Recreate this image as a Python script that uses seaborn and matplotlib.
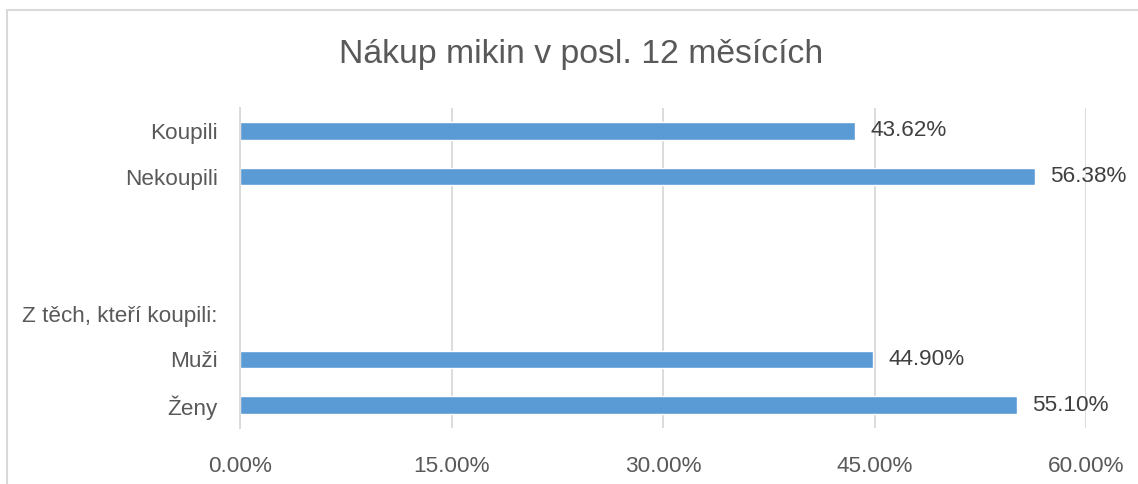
import matplotlib
matplotlib.use("Agg")
import matplotlib.pyplot as plt
import seaborn as sns
import pandas as pd
import numpy as np
from matplotlib.patches import Rectangle

categories = ["Koupili", "Nekoupili", " ", "  ", "Z těch, kteří koupili:", "Muži", "Ženy"]
values = [43.62, 56.38, np.nan, np.nan, np.nan, 44.90, 55.10]
xticks = [0, 15, 30, 45, 60]
title = "Nákup mikin v posl. 12 měsících"

sns.set_theme(style="white")
plt.rcParams['font.family'] = ['Liberation Sans', 'DejaVu Sans']

fig = plt.figure(figsize=(11.38, 4.84), dpi=100)
ax = fig.add_axes([240/1138, 56/484, (1086-240)/1138, 320/484])

df = pd.DataFrame({"cat": categories, "val": values})
sns.barplot(data=df, x="val", y="cat", order=categories, color="#5b9bd5",
            saturation=1, width=0.38, ax=ax, orient="h")

ax.set_xlim(0, 60)
ax.set_xticks(xticks)
ax.set_xticklabels([f"{v:.2f}%" for v in xticks])
ax.set_xlabel("")
ax.set_ylabel("")
ax.grid(axis="x", color="#d9d9d9", linewidth=1.3)
ax.set_axisbelow(True)
for s in ["top", "right", "bottom"]:
    ax.spines[s].set_visible(False)
ax.spines["left"].set_color("#d9d9d9")
ax.spines["left"].set_linewidth(1.3)
ax.tick_params(axis="x", length=0, pad=20, labelsize=16.2, labelcolor="#595959")
ax.tick_params(axis="y", length=0, pad=16, labelsize=16.2, labelcolor="#595959")

for i, v in enumerate(values):
    if not np.isnan(v):
        ax.text(v + 1.1, i, f"{v:.2f}%", va="center", ha="left",
                fontsize=16.2, color="#404040")

fig.text(581/1138, 1 - 55/484, title, ha="center", va="center",
         fontsize=24.3, color="#595959")

fig.patches.append(Rectangle((7/1138, -0.01), 1.0, 1.01 - 10/484, transform=fig.transFigure,
                             fill=False, edgecolor="#d9d9d9", linewidth=1.5))

fig.savefig("out.png", dpi=100)
